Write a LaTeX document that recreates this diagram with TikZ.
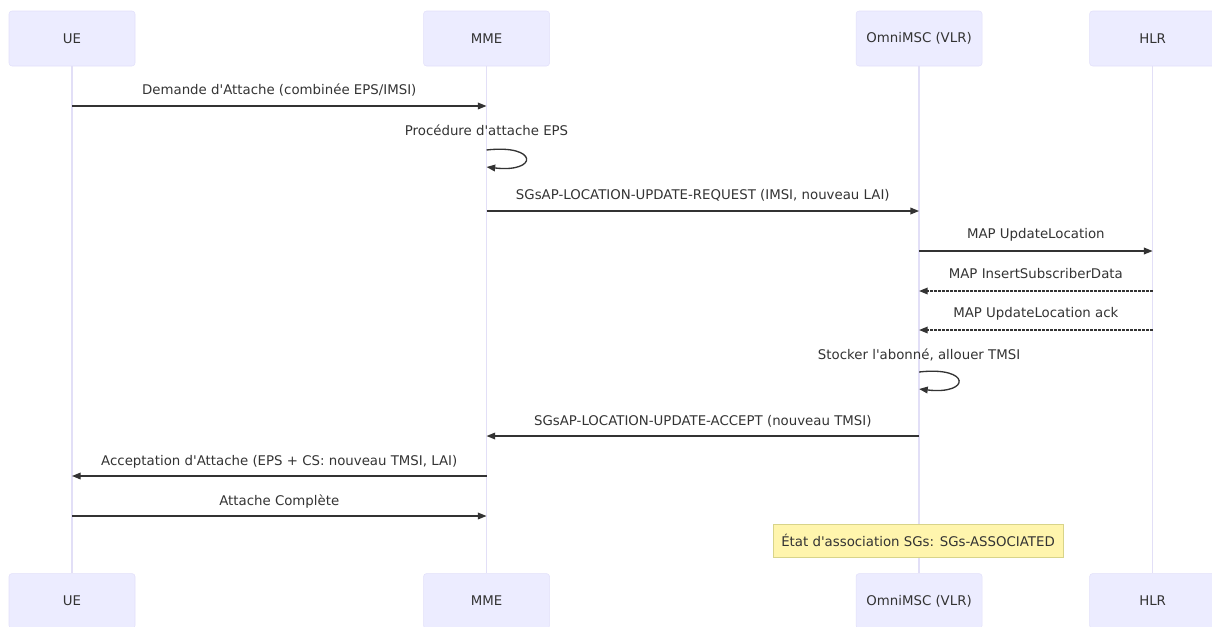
\documentclass[tikz,border=0pt]{standalone}
\usepackage{fontspec}
\setmainfont{DejaVu Sans}
\usepackage{tikz}
\usetikzlibrary{positioning,arrows.meta}
\definecolor{actorfill}{HTML}{ECECFF}
\definecolor{actorline}{HTML}{E2E0FA}
\definecolor{lifecol}{HTML}{E2DFF7}
\definecolor{msgcol}{HTML}{333333}
\definecolor{notefill}{HTML}{FFF5AD}
\definecolor{noteline}{HTML}{D8D48A}
\newcommand{\ap}{\textquotesingle}

\begin{document}
\begin{tikzpicture}[x=0.75pt, y=-0.75pt,
  actor/.style={fill=actorfill, draw=actorline, rounded corners=2.25pt, minimum width=94.5pt, minimum height=41.25pt, font=\fontsize{10}{12}\selectfont, text=msgcol},
  life/.style={draw=lifecol, line width=1.3pt},
  msg/.style={draw=msgcol, line width=1pt, -{Triangle[length=6.5pt, width=5pt]}},
  reply/.style={msg, dash pattern=on 1.6pt off 1.4pt},
  lbl/.style={font=\fontsize{10}{12}\selectfont, text=msgcol, inner sep=0pt, text height=1.5ex, text depth=.25ex},
  note/.style={fill=notefill, draw=noteline, minimum width=217.5pt, minimum height=24.75pt, font=\fontsize{10}{12}\selectfont, text=msgcol}
]
\useasboundingbox (0,0) rectangle (1212,626);

\node[actor] (ue) at (72,38.5) {UE};
\node[actor, right=216pt of ue] (mme) {MME};
\node[actor, right=229.5pt of mme] (msc) {OmniMSC (VLR)};
\node[actor, right=80.25pt of msc] (hlr) {HLR};
\node[actor, below=380.25pt of ue] (ueB) {UE};
\node[actor, below=380.25pt of mme] (mmeB) {MME};
\node[actor, below=380.25pt of msc] (mscB) {OmniMSC (VLR)};
\node[actor, below=380.25pt of hlr] (hlrB) {HLR};

\draw[life] (ue) -- (ueB);
\draw[life] (mme) -- (mmeB);
\draw[life] (msc) -- (mscB);
\draw[life] (hlr) -- (hlrB);

\coordinate (r1) at (0,106);
\coordinate (r2) at (0,150);
\coordinate (r2e) at (0,167);
\coordinate (r3) at (0,211);
\coordinate (r4) at (0,251);
\coordinate (r5) at (0,291);
\coordinate (r6) at (0,330);
\coordinate (r7) at (0,372);
\coordinate (r7e) at (0,389);
\coordinate (r8) at (0,436);
\coordinate (r9) at (0,476);
\coordinate (r10) at (0,516);

\draw[msg] (ue |- r1) -- node[lbl, yshift=12pt] {Demande d\ap Attache (combinée EPS/IMSI)} (mme |- r1);
\draw[msg] (mme |- r2) node[lbl, yshift=14.25pt] {Procédure d\ap attache EPS} .. controls +(52,-6) and +(52,6) .. (mme |- r2e);
\draw[msg] (mme |- r3) -- node[lbl, yshift=12pt] {SGsAP-LOCATION-UPDATE-REQUEST (IMSI, nouveau LAI)} (msc |- r3);
\draw[msg] (msc |- r4) -- node[lbl, yshift=12.75pt] {MAP UpdateLocation} (hlr |- r4);
\draw[reply] (hlr |- r5) -- node[lbl, yshift=12.75pt] {MAP InsertSubscriberData} (msc |- r5);
\draw[reply] (hlr |- r6) -- node[lbl, yshift=12.75pt] {MAP UpdateLocation ack} (msc |- r6);
\draw[msg] (msc |- r7) node[lbl, yshift=12.75pt] {Stocker l\ap abonné, allouer TMSI} .. controls +(52,-6) and +(52,6) .. (msc |- r7e);
\draw[msg] (msc |- r8) -- node[lbl, yshift=11.25pt] {SGsAP-LOCATION-UPDATE-ACCEPT (nouveau TMSI)} (mme |- r8);
\draw[msg] (mme |- r9) -- node[lbl, yshift=11.25pt] {Acceptation d\ap Attache (EPS + CS: nouveau TMSI, LAI)} (ue |- r9);
\draw[msg] (ue |- r10) -- node[lbl, yshift=11.25pt] {Attache Complète} (mme |- r10);

\node[note] (assoc) at (918,540.5) {État d\ap association SGs: SGs-ASSOCIATED};
\end{tikzpicture}
\end{document}
